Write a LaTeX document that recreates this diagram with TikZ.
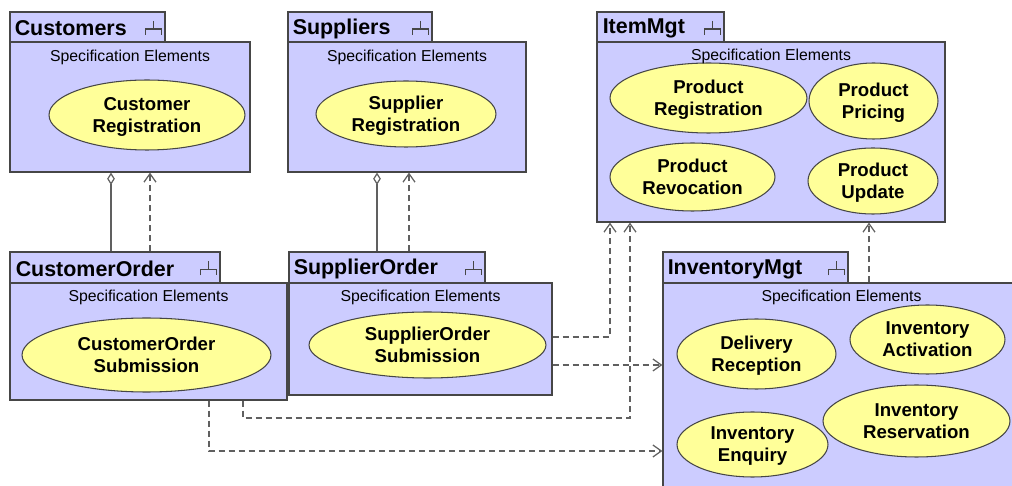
\documentclass[tikz,border=0pt]{standalone}
\usepackage{fontspec}
\setmainfont{Liberation Sans}
\usetikzlibrary{shapes.geometric,arrows.meta}
\definecolor{pkgfill}{RGB}{204,204,255}
\definecolor{ucfill}{RGB}{255,255,153}
\definecolor{edgegray}{RGB}{70,70,70}
\definecolor{linkgray}{RGB}{96,96,96}
\begin{document}
\begin{tikzpicture}[x=0.02cm, y=-0.02cm,
    pkg/.style={draw=edgegray, fill=pkgfill, line width=0.7pt, inner sep=0pt},
    pkgname/.style={anchor=west, inner sep=0pt, font=\fontsize{12.2}{14}\selectfont\bfseries},
    spec/.style={inner sep=0pt, font=\fontsize{9}{11}\selectfont},
    uc/.style={ellipse, draw=edgegray, fill=ucfill, line width=0.6pt, inner sep=0pt, text depth=0pt,
               align=center, font=\fontsize{10.6}{12.6}\selectfont\bfseries},
    dep/.style={draw=linkgray, line width=0.7pt, dash pattern=on 3.4pt off 2.3pt,
                -{Straight Barb[length=1.7mm,width=2.4mm]}},
    owns/.style={draw=linkgray, line width=0.7pt, {Diamond[open,length=7pt,width=4.4pt]}-},
    pkgicon/.pic={\draw[edgegray, line width=0.6pt] (0,-6) -- (0,2) (-8,8) -- (-8,2) -- (8,2) -- (8,8);}]
  \clip (0,0) rectangle (1012,486);

  % Customers
  \node[pkg, minimum width=3.1cm, minimum height=0.6cm] (custtab) at (87.5,27) {};
  \node[pkg, minimum width=4.8cm, minimum height=2.6cm] (cust) at (130,107) {};
  \node[pkgname] (custname) at ([xshift=0.1cm,yshift=-0.03cm]custtab.west) {Customers};
  \pic at ([xshift=-0.24cm]custtab.east) {pkgicon};
  \node[uc, minimum width=3.92cm, minimum height=1.4cm] (custreg) at (147,115) {Customer\\Registration};
  \node[spec] (custspec) at ([yshift=-0.33cm]cust.north) {Specification Elements};

  % Suppliers
  \node[pkg, minimum width=2.88cm, minimum height=0.6cm] (supptab) at (360,27) {};
  \node[pkg, minimum width=4.76cm, minimum height=2.6cm] (supp) at (407,107) {};
  \node[pkgname] (suppname) at ([xshift=0.1cm,yshift=-0.03cm]supptab.west) {Suppliers};
  \pic at ([xshift=-0.24cm]supptab.east) {pkgicon};
  \node[uc, minimum width=3.6cm, minimum height=1.32cm] (suppreg) at (406,114) {Supplier\\Registration};
  \node[spec] (suppspec) at ([yshift=-0.33cm]supp.north) {Specification Elements};

  % ItemMgt
  \node[pkg, minimum width=2.54cm, minimum height=0.6cm] (itemtab) at (660.5,27) {};
  \node[pkg, minimum width=6.96cm, minimum height=3.6cm] (item) at (771,132) {};
  \node[pkgname] (itemname) at ([xshift=0.12cm,yshift=-0.03cm]itemtab.west) {ItemMgt};
  \pic at ([xshift=-0.24cm]itemtab.east) {pkgicon};
  \node[uc, minimum width=3.94cm, minimum height=1.4cm] (prodreg) at (708.5,98) {Product\\Registration};
  \node[uc, minimum width=2.58cm, minimum height=1.52cm] (prodprice) at (873.5,101) {Product\\Pricing};
  \node[uc, minimum width=3.3cm, minimum height=1.36cm] (prodrevoke) at (692.5,177) {Product\\Revocation};
  \node[uc, minimum width=2.6cm, minimum height=1.32cm] (produpd) at (873,181) {Product\\Update};
  \node[spec] (itemspec) at ([yshift=-0.31cm]item.north) {Specification Elements};

  % CustomerOrder
  \node[pkg, minimum width=4.2cm, minimum height=0.62cm] (cotab) at (115,267.5) {};
  \node[pkg, minimum width=5.54cm, minimum height=2.34cm] (co) at (148.5,341.5) {};
  \node[pkgname] (coname) at ([xshift=0.12cm,yshift=-0.03cm]cotab.west) {CustomerOrder};
  \pic at ([xshift=-0.24cm]cotab.east) {pkgicon};
  \node[uc, minimum width=4.98cm, minimum height=1.48cm] (cosubmit) at (146.5,355) {CustomerOrder\\Submission};
  \node[spec] (cospec) at ([yshift=-0.3cm]co.north) {Specification Elements};

  % SupplierOrder
  \node[pkg, minimum width=3.92cm, minimum height=0.62cm] (sotab) at (387,267.5) {};
  \node[pkg, minimum width=5.26cm, minimum height=2.24cm] (so) at (420.5,339) {};
  \node[pkgname] (soname) at ([xshift=0.1cm,yshift=-0.03cm]sotab.west) {SupplierOrder};
  \pic at ([xshift=-0.24cm]sotab.east) {pkgicon};
  \node[uc, minimum width=4.74cm, minimum height=1.32cm] (sosubmit) at (427.5,345) {SupplierOrder\\Submission};
  \node[spec] (sospec) at ([yshift=-0.3cm]so.north) {Specification Elements};

  % InventoryMgt
  \node[pkg, minimum width=3.7cm, minimum height=0.62cm] (invtab) at (755.5,267.5) {};
  \node[pkg, minimum width=7.14cm, minimum height=4.34cm] (inv) at (841.5,391.5) {};
  \node[pkgname] (invname) at ([xshift=0.1cm,yshift=-0.03cm]invtab.west) {InventoryMgt};
  \pic at ([xshift=-0.24cm]invtab.east) {pkgicon};
  \node[uc, minimum width=3.18cm, minimum height=1.4cm] (delrecv) at (756.5,354) {Delivery\\Reception};
  \node[uc, minimum width=3.1cm, minimum height=1.38cm] (invact) at (927.5,339.5) {Inventory\\Activation};
  \node[uc, minimum width=3.74cm, minimum height=1.44cm] (invres) at (916.5,421) {Inventory\\Reservation};
  \node[uc, minimum width=3.02cm, minimum height=1.3cm] (invenq) at (752.5,444.5) {Inventory\\Enquiry};
  \node[spec] (invspec) at ([yshift=-0.3cm]inv.north) {Specification Elements};

  % ownership and dependencies
  \draw[owns] (111,0 |- cust.south) -- (111,0 |- cotab.north);
  \draw[dep] (150,0 |- cotab.north) -- (150,0 |- cust.south);
  \draw[owns] (377,0 |- supp.south) -- (377,0 |- sotab.north);
  \draw[dep] (409,0 |- sotab.north) -- (409,0 |- supp.south);
  \draw[dep] (so.east |- 0,337) -| (610,0 |- item.south);
  \draw[dep] (so.east |- 0,365) -- (inv.west |- 0,365);
  \draw[dep] (243,0 |- co.south) |- (630,418) -- (630,0 |- item.south);
  \draw[dep] (209,0 |- co.south) |- (inv.west |- 0,451);
  \draw[dep] (869,0 |- inv.north) -- (869,0 |- item.south);
\end{tikzpicture}
\end{document}
